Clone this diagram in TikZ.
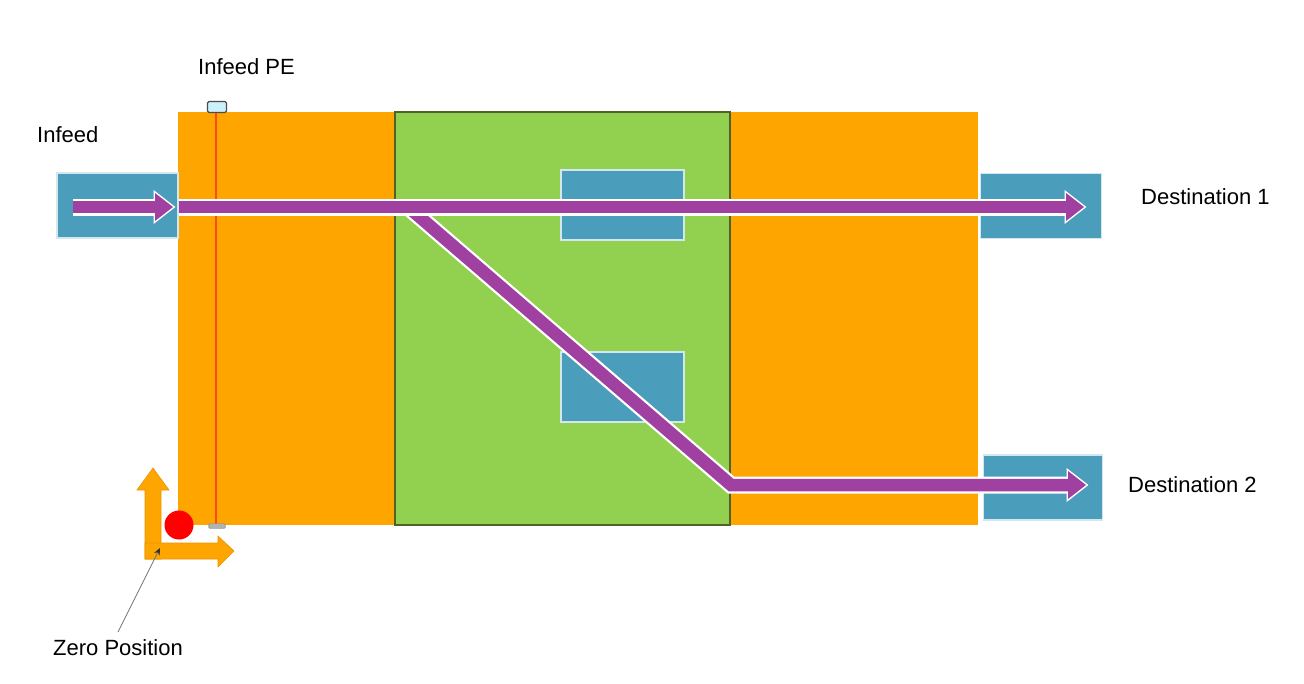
\documentclass[tikz,border=0pt]{standalone}
\usepackage{fontspec}
\setmainfont{Liberation Sans}
\usetikzlibrary{positioning,arrows.meta}

\definecolor{conveyor}{HTML}{FFA500}
\definecolor{conveyoredge}{HTML}{E89400}
\definecolor{sorter}{HTML}{92D050}
\definecolor{sorteredge}{HTML}{4F6228}
\definecolor{station}{HTML}{4A9EBB}
\definecolor{route}{HTML}{A040A0}
\definecolor{sensor}{HTML}{FF4A10}

\tikzset{
  label text/.style={font=\fontsize{22}{26}\selectfont, anchor=west, inner sep=0pt},
  station box/.style={fill=station, draw=white!75!station, line width=1.2, inner sep=0pt},
  route out/.style={white, line width=17, line join=miter},
  route in/.style={route, line width=12.5, line join=miter},
  axis arrow/.style={fill=conveyor, draw=conveyoredge, line width=0.6, line join=miter}
}

% #1 shaft path, #2 tip coordinate
\newcommand{\routearrow}[2]{%
  \draw[route out] #1;
  \filldraw[white, line width=3, line join=miter] ([shift={(-18,-14)}]#2) -- (#2) -- ([shift={(-18,14)}]#2) -- cycle;
  \draw[route in] #1;
  \fill[route] ([shift={(-18,-14)}]#2) -- (#2) -- ([shift={(-18,14)}]#2) -- cycle;
}

\begin{document}
\begin{tikzpicture}[x=1pt,y=-1pt]
  \useasboundingbox (0,0) rectangle (1304,683);

  \fill[conveyor] (178,112) rectangle (395,525);
  \fill[conveyor] (730,112) rectangle (978,525);
  \filldraw[fill=sorter, draw=sorteredge, line width=1.5] (395,112) rectangle (730,525);

  \node[station box, minimum width=123, minimum height=70] (upper) at (622.5,205) {};
  \node[station box, minimum width=123, minimum height=70] (lower) at (622.5,387) {};

  \node[station box, minimum width=121, minimum height=65] (infeed) at (117.5,205.5) {};
  \node[station box, minimum width=121, minimum height=65] (dest1) at (1041,206) {};
  \node[station box, minimum width=119, minimum height=65] (dest2) at (1043,487.5) {};

  % infeed photo eye
  \draw[sensor, line width=1.8] (216,112) -- (216,525);
  \node[draw=black!70, fill=cyan!20, rounded corners=1.5, line width=1.2, minimum width=19, minimum height=11, inner sep=0pt] (pe) at (217,107) {};
  \node[draw=black!45, fill=black!30, rounded corners=1.5, minimum width=17, minimum height=5, inner sep=0pt] (peend) at (217,526) {};

  \coordinate (intip) at (173,207);
  \coordinate (d1tip) at (1084,207);
  \coordinate (split) at (408,207);
  \coordinate (bend) at (731,485);
  \coordinate (d2tip) at (1086,485);

  \routearrow{(73,207) -- (157,207)}{intip}
  \routearrow{(split) -- (bend) -- (1070,485)}{d2tip}
  \routearrow{(179,207) -- (1068,207)}{d1tip}

  % zero position
  \filldraw[axis arrow] (145,559) -- (145,490) -- (137,490) -- (153,468) -- (169,490) -- (161,490) -- (161,559) -- cycle;
  \filldraw[axis arrow] (145,543) -- (218,543) -- (218,536) -- (234,551) -- (218,567) -- (218,559) -- (145,559) -- cycle;
  \fill[red] (179,525) circle (14.5);
  \coordinate (zeropt) at (160,548);

  \node[label text] (pelabel) at (198,67) {Infeed PE};
  \node[label text] (inlabel) at (37,135) {Infeed};
  \node[label text] (d1label) at (1141,197) {Destination 1};
  \node[label text] (d2label) at (1128,485) {Destination 2};
  \node[label text] (zerolabel) at (53,648) {Zero Position};

  \draw[black!55, line width=0.8, -{Stealth[length=7,width=6,black!80]}] (118,632) -- (zeropt);
\end{tikzpicture}
\end{document}
